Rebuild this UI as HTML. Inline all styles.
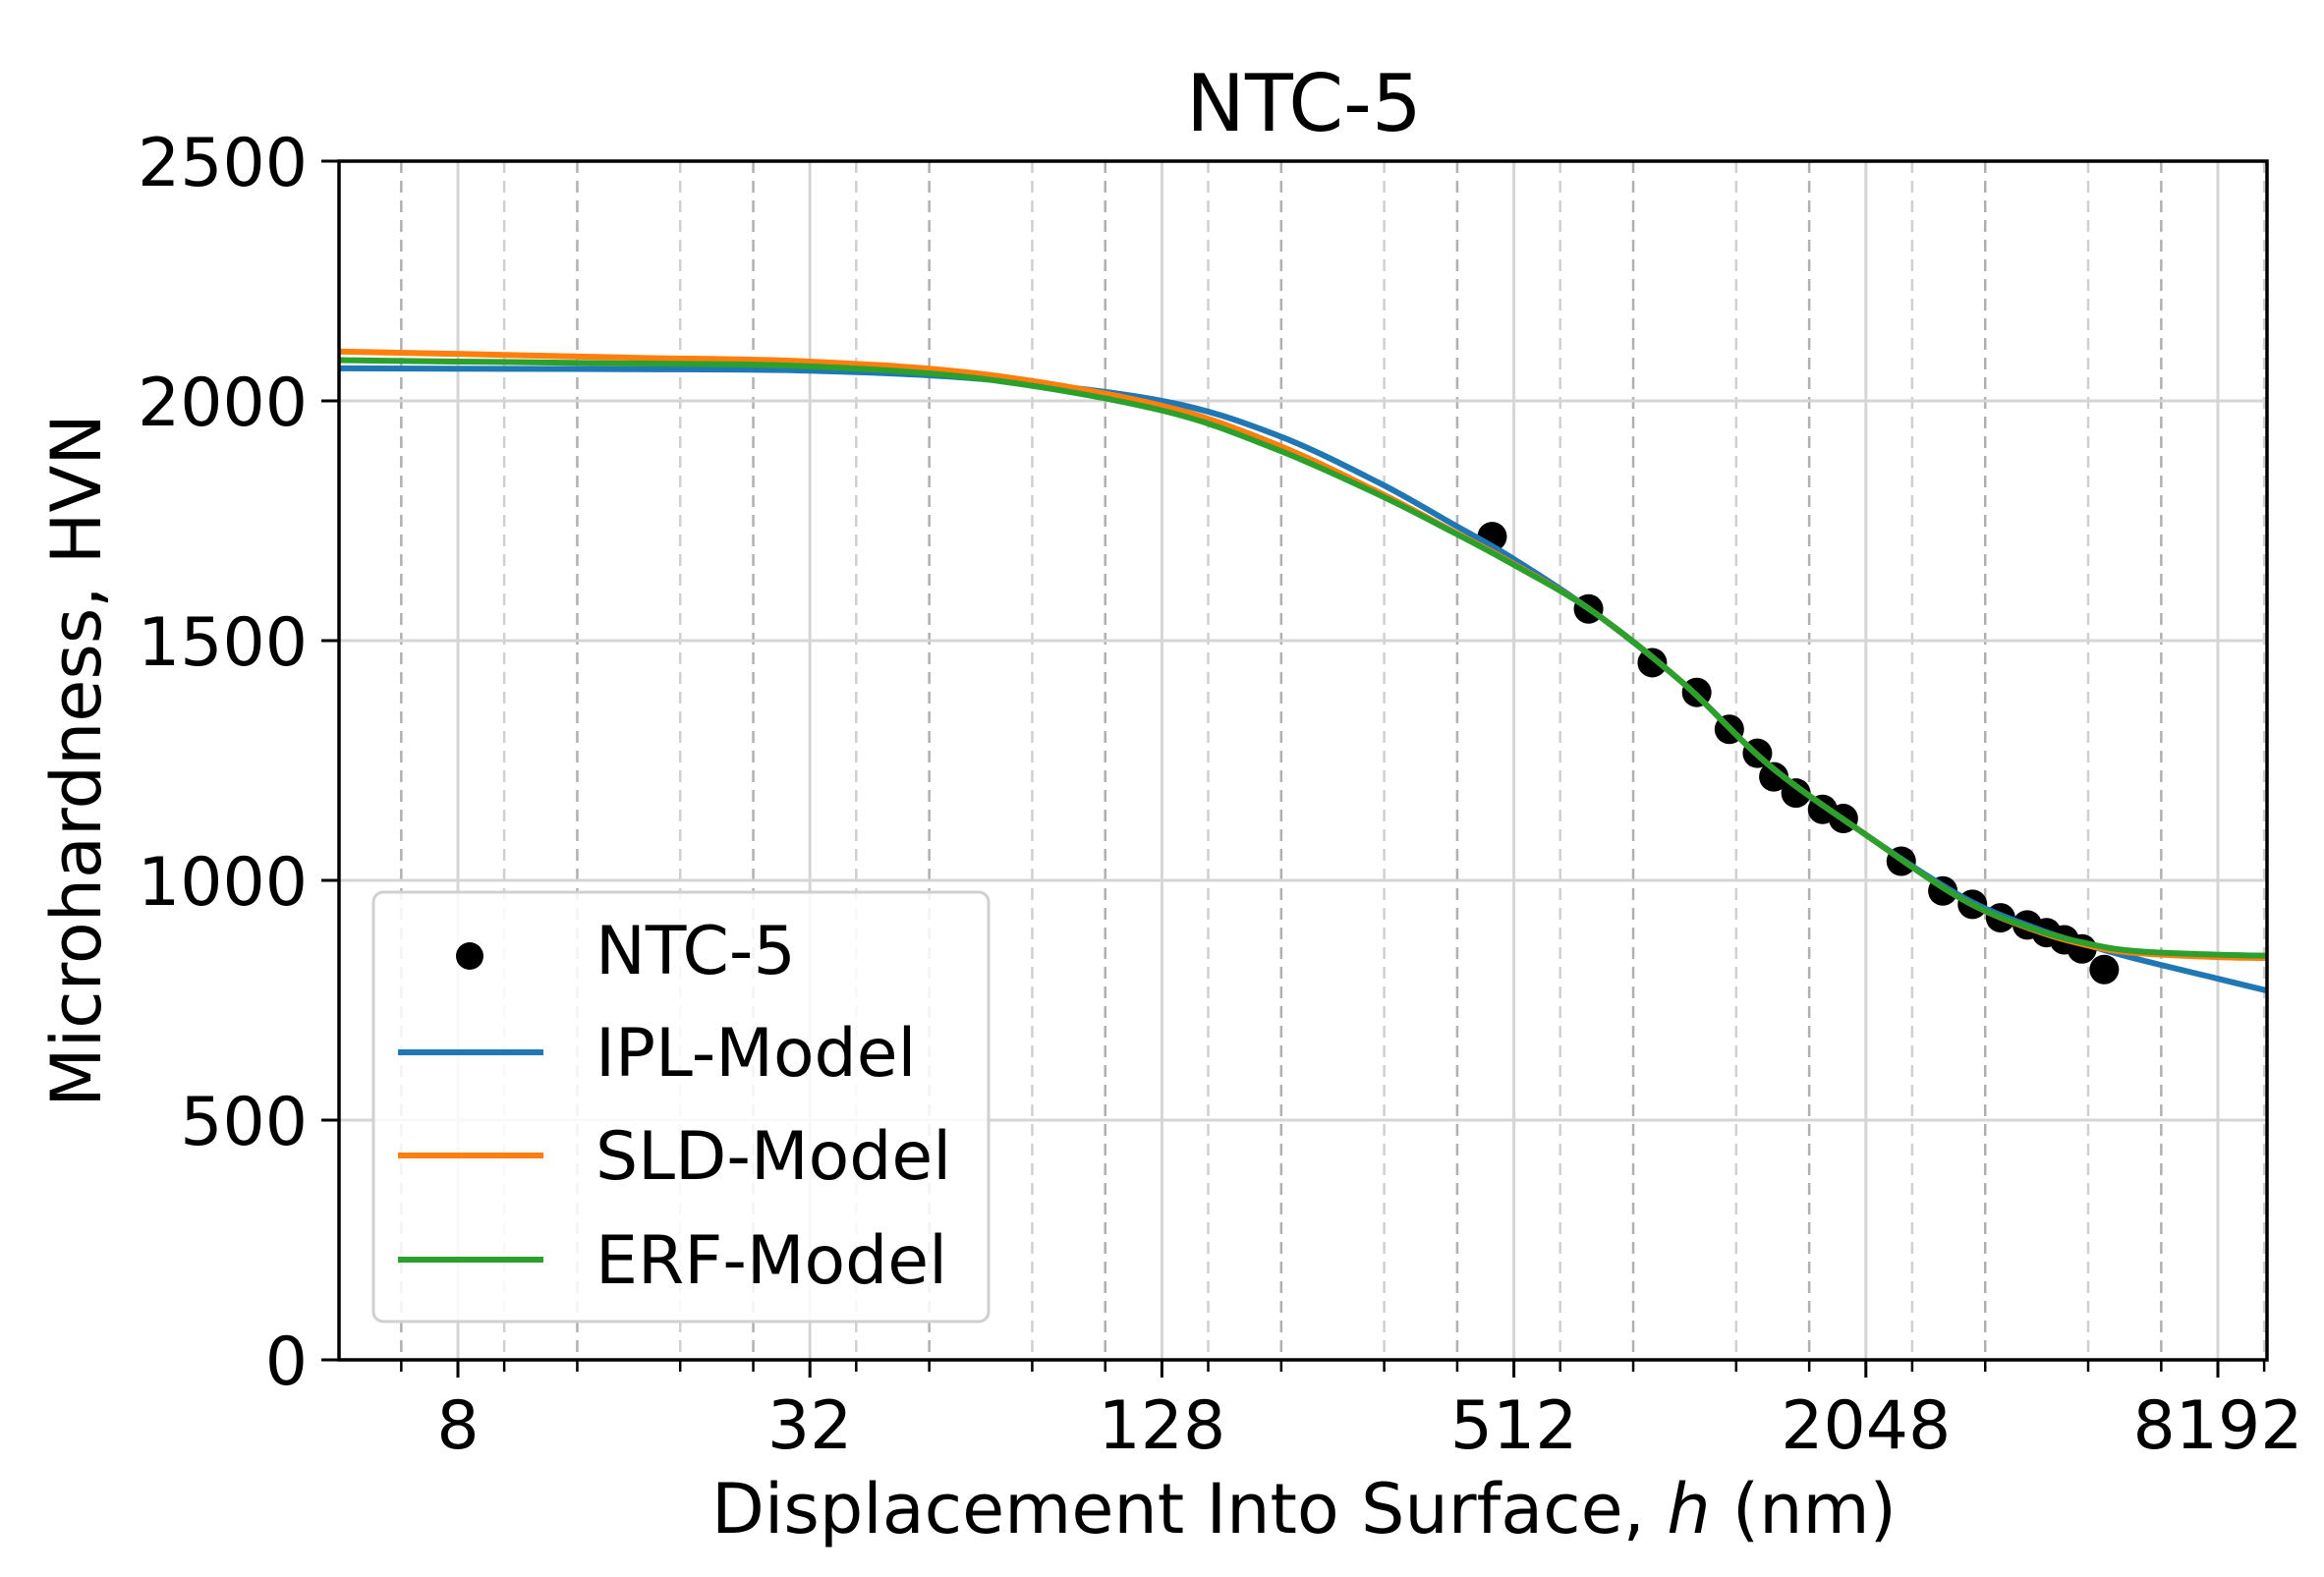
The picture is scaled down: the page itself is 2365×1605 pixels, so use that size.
<!DOCTYPE html>
<html><head><meta charset="utf-8"><style>
html,body{margin:0;padding:0;background:#fff;}
svg{display:block;font-family:"DejaVu Sans","Liberation Sans",sans-serif;}
</style></head><body>
<svg id="chart" width="2365" height="1605" viewBox="0 0 2365 1605" xmlns="http://www.w3.org/2000/svg">
<rect width="2365" height="1605" fill="#fff"/>
<g id="grid"></g>
<g id="series"></g>
<g id="axes"></g>
<text x="1327" y="133" font-size="80" text-anchor="middle">NTC-5</text>
<text x="1327" y="1560" font-size="70" text-anchor="middle">Displacement Into Surface, <tspan font-style="italic">h</tspan> (nm)</text>
<text transform="translate(102,774) rotate(-90)" font-size="70" text-anchor="middle">Microhardness, HVN</text>
<g id="legend">
<rect x="380" y="908" width="626" height="437" rx="10" fill="#fff" fill-opacity="0.85" stroke="#d0d0d0" stroke-width="3"/>
<circle cx="478" cy="973" r="14" fill="#000"/>
<text x="606" y="991" font-size="68">NTC-5</text>
<line x1="405" y1="1071" x2="553" y2="1071" stroke="#1f77b4" stroke-width="6"/>
<text x="606" y="1095" font-size="68">IPL-Model</text>
<line x1="405" y1="1176" x2="553" y2="1176" stroke="#ff7f0e" stroke-width="6"/>
<text x="606" y="1200" font-size="68">SLD-Model</text>
<line x1="405" y1="1282" x2="553" y2="1282" stroke="#2ca02c" stroke-width="6"/>
<text x="606" y="1306" font-size="68">ERF-Model</text>
</g>
</svg>
<script>
const xTickValues = [8, 32, 128, 512, 2048, 8192];
const yTickValues = [0, 500, 1000, 1500, 2000, 2500];
const dataH = [470, 687, 883, 1052, 1196, 1336, 1425, 1555, 1727, 1874, 2354, 2773, 3116, 3481, 3867, 4171, 4474, 4797, 5236];
const dataHV = [1717, 1566, 1454, 1392, 1315, 1265, 1216, 1182, 1148, 1129, 1040, 978, 950, 922, 907, 891, 876, 857, 814];
const curveH = [5, 8, 16, 32, 64, 128, 200, 300, 400, 512, 700, 1000, 1400, 2048, 3000, 4000, 5000, 6000, 8192, 10000];
const iplHV = [2068, 2067, 2066, 2063, 2045, 2000, 1930, 1830, 1745, 1670, 1560, 1410, 1240, 1095, 965, 900, 862, 835, 795, 770];
const sldHV = [2103, 2098, 2090, 2082, 2055, 1990, 1910, 1810, 1730, 1660, 1560, 1410, 1240, 1095, 960, 895, 862, 848, 840, 838];
const erfHV = [2085, 2082, 2078, 2072, 2045, 1980, 1900, 1805, 1728, 1658, 1560, 1410, 1240, 1095, 960, 897, 866, 852, 845, 843];

const NS = "http://www.w3.org/2000/svg";
const L = 345, R = 2307, T = 164, B = 1384;
const X0 = 466, PX_OCT = 179.1;
function xs(h){ return X0 + (Math.log2(h) - 3) * PX_OCT; }
function ys(v){ return B - (v / 2500) * (B - T); }
function mk(tag, attrs, parent){ const e = document.createElementNS(NS, tag); for (const k in attrs) e.setAttribute(k, attrs[k]); parent.appendChild(e); return e; }
const grid = document.getElementById('grid'), axes = document.getElementById('axes'), series = document.getElementById('series');

for (let k = -1; k < 12; k++) {
  [[6.4, '#b0b0b0'], [9.6, '#d0d0d0']].forEach(([b, c]) => {
    const h = b * Math.pow(2, k); const x = xs(h);
    if (x <= L + 1 || x >= R - 1) return;
    const ln = mk('line', {x1: x, y1: T, x2: x, y2: B, stroke: c, 'stroke-width': 2.5, 'stroke-dasharray': '12,8'}, grid);
    
    
    const tk = mk('line', {x1: x, y1: B, x2: x, y2: B + 12, stroke: '#000', 'stroke-width': 2.5}, axes);
    
    
  });
}
xTickValues.forEach(v => {
  const x = xs(v);
  const ln = mk('line', {x1: x, y1: T, x2: x, y2: B, stroke: '#d5d5d5', 'stroke-width': 3}, grid);
  
  
  const tk = mk('line', {x1: x, y1: B, x2: x, y2: B + 18, stroke: '#000', 'stroke-width': 3}, axes);
  
  
  const t = mk('text', {x: x, y: B + 90, 'font-size': 68, 'text-anchor': 'middle'}, axes);
  t.textContent = v;
  
  
});
yTickValues.forEach(v => {
  const y = ys(v);
  const ln = mk('line', {x1: L, y1: y, x2: R, y2: y, stroke: '#d5d5d5', 'stroke-width': 3}, grid);
  
  
  const tk = mk('line', {x1: L - 18, y1: y, x2: L, y2: y, stroke: '#000', 'stroke-width': 3}, axes);
  
  
  const t = mk('text', {x: L - 32, y: y + 25, 'font-size': 68, 'text-anchor': 'end'}, axes);
  t.textContent = v;
  
  
});
const frame = mk('rect', {x: L, y: T, width: R - L, height: B - T, fill: 'none', stroke: '#000', 'stroke-width': 3.5}, axes);



function pathFor(vals){
  const p = curveH.map((h, i) => [Math.max(L, Math.min(R, xs(h))), ys(vals[i])]);
  let d = 'M' + p[0][0] + ',' + p[0][1];
  for (let i = 0; i < p.length - 1; i++) {
    const p0 = p[Math.max(0, i - 1)], p1 = p[i], p2 = p[i + 1], p3 = p[Math.min(p.length - 1, i + 2)];
    const c1 = [p1[0] + (p2[0] - p0[0]) / 6, p1[1] + (p2[1] - p0[1]) / 6];
    const c2 = [p2[0] - (p3[0] - p1[0]) / 6, p2[1] - (p3[1] - p1[1]) / 6];
    d += ' C' + c1 + ' ' + c2 + ' ' + p2;
  }
  return d;
}
dataH.forEach((h, i) => {
  const c = mk('circle', {cx: xs(h), cy: ys(dataHV[i]), r: 15, fill: '#000'}, series);
  
  
});
[['ipl-curve', iplHV, '#1f77b4'], ['sld-curve', sldHV, '#ff7f0e'], ['erf-curve', erfHV, '#2ca02c']].forEach(([n, v, c]) => {
  const pth = mk('path', {d: pathFor(v), fill: 'none', stroke: c, 'stroke-width': 6}, series);
  
  
});
const clip = mk('clipPath', {id: 'pc'}, document.getElementById('chart'));
mk('rect', {x: L, y: T, width: R - L, height: B - T}, clip);
series.setAttribute('clip-path', 'url(#pc)');
</script>
</body></html>
